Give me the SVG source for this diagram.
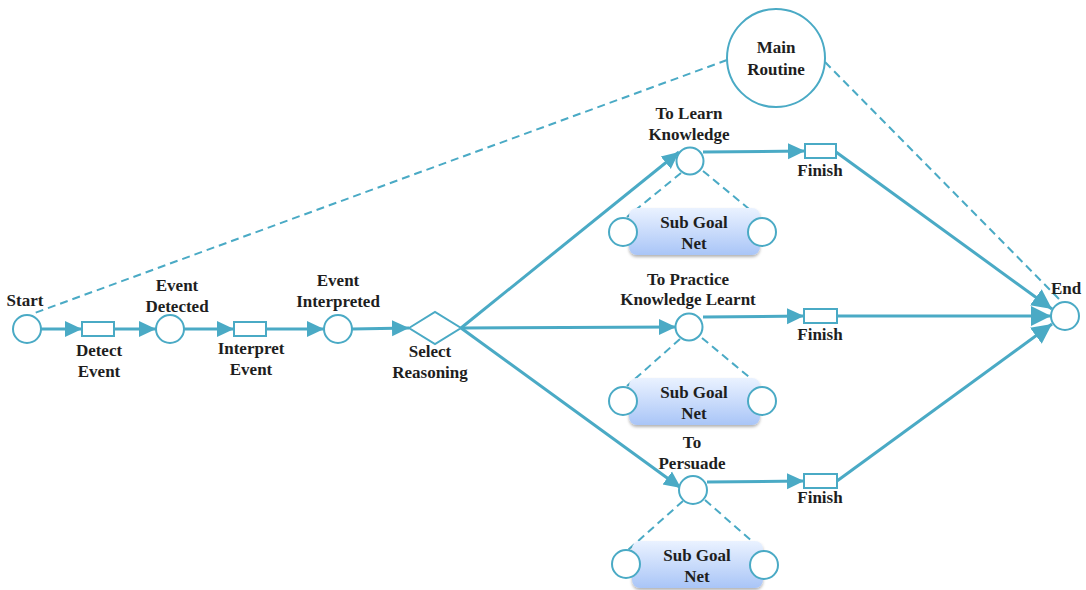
<svg xmlns="http://www.w3.org/2000/svg" width="1086" height="590" viewBox="0 0 1086 590">
<style>
.place{fill:#fff;stroke:#4aaac5;stroke-width:2}
.trans{fill:#fff;stroke:#4aaac5;stroke-width:2}
.flow{fill:none;stroke:#4aaac5;stroke-width:3}
.dash{fill:none;stroke:#4aaac5;stroke-width:2;stroke-dasharray:8 5}
.lbl{font-family:"Liberation Serif",serif;font-weight:bold;font-size:17px;fill:#1e1e1e;text-anchor:middle}
.sub{fill:url(#subg);filter:url(#sh)}
</style>
<defs>
<marker id="arr" markerUnits="userSpaceOnUse" markerWidth="20" markerHeight="20" refX="17" refY="9" orient="auto">
<path d="M0,1 L17,9 L0,17 z" fill="#4aaac5"/>
</marker>
<marker id="arrL" markerUnits="userSpaceOnUse" markerWidth="24" markerHeight="24" refX="20" refY="11" orient="auto">
<path d="M0,1 L20,11 L0,21 z" fill="#4aaac5"/>
</marker>
<linearGradient id="subg" x1="0" y1="0" x2="0" y2="1">
<stop offset="0" stop-color="#eaf2ff"/>
<stop offset="1" stop-color="#a9c5f7"/>
</linearGradient>
<filter id="sh" x="-10%" y="-10%" width="120%" height="130%">
<feDropShadow dx="0" dy="2" stdDeviation="1.5" flood-color="#000" flood-opacity="0.3"/>
</filter>
</defs>

<g id="connectors">
<line class="dash" x1="727" y1="60" x2="32" y2="314"/>
<line class="dash" x1="825" y1="62" x2="1062" y2="302"/>
<line class="dash" x1="681" y1="173" x2="627" y2="217"/>
<line class="dash" x1="703" y1="171" x2="760" y2="218"/>
<line class="dash" x1="680" y1="339" x2="627" y2="386"/>
<line class="dash" x1="702" y1="338" x2="760" y2="386"/>
<line class="dash" x1="683" y1="501" x2="628" y2="550"/>
<line class="dash" x1="705" y1="500" x2="762" y2="550"/>
<line class="flow" x1="41" y1="329" x2="82" y2="329" marker-end="url(#arr)"/>
<line class="flow" x1="114" y1="329" x2="156" y2="329" marker-end="url(#arr)"/>
<line class="flow" x1="184" y1="329" x2="234" y2="329" marker-end="url(#arr)"/>
<line class="flow" x1="266" y1="329" x2="324" y2="329" marker-end="url(#arr)"/>
<line class="flow" x1="352" y1="329" x2="409" y2="328" marker-end="url(#arr)"/>
<line class="flow" x1="461" y1="328" x2="679" y2="152" marker-end="url(#arr)"/>
<line class="flow" x1="461" y1="328" x2="676" y2="327" marker-end="url(#arr)"/>
<line class="flow" x1="461" y1="328" x2="681" y2="488" marker-end="url(#arr)"/>
<line class="flow" x1="703" y1="152" x2="805" y2="151" marker-end="url(#arr)"/>
<line class="flow" x1="703" y1="317" x2="804" y2="316" marker-end="url(#arr)"/>
<line class="flow" x1="707" y1="482" x2="804" y2="481" marker-end="url(#arr)"/>
<line class="flow" x1="836" y1="152" x2="1052" y2="309" marker-end="url(#arrL)"/>
<line class="flow" x1="837" y1="316" x2="1051" y2="316" marker-end="url(#arrL)"/>
<line class="flow" x1="837" y1="481" x2="1052" y2="324" marker-end="url(#arrL)"/>
</g>

<g id="main-routine"><circle class="place" cx="776" cy="58" r="49"/><text class="lbl" x="776" y="53">Main</text><text class="lbl" x="776" y="75">Routine</text></g>
<g id="start"><circle class="place" cx="27" cy="329" r="14"/><text class="lbl" x="25" y="306">Start</text></g>
<g id="detect-event"><rect class="trans" x="82" y="322" width="32" height="14"/><text class="lbl" x="99" y="356">Detect</text><text class="lbl" x="99" y="377">Event</text></g>
<g id="event-detected"><circle class="place" cx="170" cy="329" r="14"/><text class="lbl" x="177" y="291">Event</text><text class="lbl" x="177" y="312">Detected</text></g>
<g id="interpret-event"><rect class="trans" x="234" y="322" width="32" height="14"/><text class="lbl" x="251" y="354">Interpret</text><text class="lbl" x="251" y="375">Event</text></g>
<g id="event-interpreted"><circle class="place" cx="338" cy="329" r="14"/><text class="lbl" x="338" y="286">Event</text><text class="lbl" x="338" y="307">Interpreted</text></g>
<g id="select-reasoning"><path class="trans" d="M409,328 L435,312 L461,328 L435,344 Z"/><text class="lbl" x="430" y="357">Select</text><text class="lbl" x="430" y="378">Reasoning</text></g>

<g id="to-learn"><circle class="place" cx="690" cy="161" r="13.5"/><text class="lbl" x="689" y="119">To Learn</text><text class="lbl" x="689" y="140">Knowledge</text></g>
<g id="subnet-1"><rect class="sub" x="629" y="208" width="131" height="47" rx="8"/><text class="lbl" x="694" y="228">Sub Goal</text><text class="lbl" x="694" y="249">Net</text><circle class="place" cx="623" cy="232" r="14"/><circle class="place" cx="762" cy="232" r="14"/></g>
<g id="finish-1"><rect class="trans" x="805" y="144" width="31" height="14"/><text class="lbl" x="820" y="176">Finish</text></g>

<g id="to-practice"><circle class="place" cx="689" cy="327" r="13.5"/><text class="lbl" x="688" y="285">To Practice</text><text class="lbl" x="688" y="305">Knowledge Learnt</text></g>
<g id="subnet-2"><rect class="sub" x="629" y="378" width="131" height="47" rx="8"/><text class="lbl" x="694" y="398">Sub Goal</text><text class="lbl" x="694" y="419">Net</text><circle class="place" cx="623" cy="401" r="14"/><circle class="place" cx="762" cy="401" r="14"/></g>
<g id="finish-2"><rect class="trans" x="804" y="309" width="33" height="14"/><text class="lbl" x="820" y="340">Finish</text></g>

<g id="to-persuade"><circle class="place" cx="693" cy="490" r="14"/><text class="lbl" x="692" y="448">To</text><text class="lbl" x="692" y="469">Persuade</text></g>
<g id="subnet-3"><rect class="sub" x="632" y="541" width="131" height="47" rx="8"/><text class="lbl" x="697" y="561">Sub Goal</text><text class="lbl" x="697" y="582">Net</text><circle class="place" cx="626" cy="564" r="14"/><circle class="place" cx="764" cy="565" r="14"/></g>
<g id="finish-3"><rect class="trans" x="804" y="474" width="33" height="14"/><text class="lbl" x="820" y="503">Finish</text></g>

<g id="end"><circle class="place" cx="1065" cy="316" r="14"/><text class="lbl" x="1066" y="294">End</text></g>
</svg>
